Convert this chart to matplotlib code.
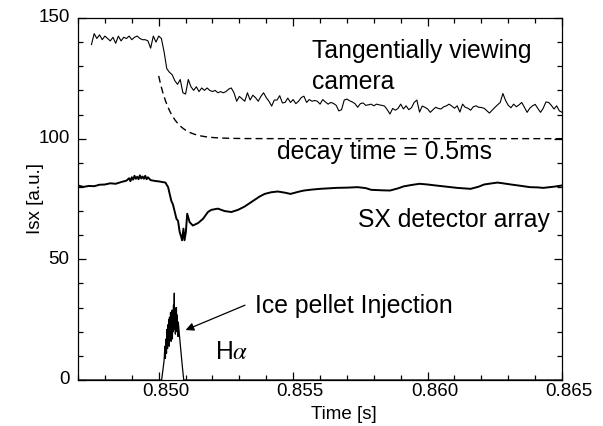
import numpy as np
import matplotlib.pyplot as plt
from matplotlib.ticker import MultipleLocator
from matplotlib.transforms import ScaledTranslation

plt.rcParams['font.family'] = ['Liberation Sans', 'DejaVu Sans']
plt.rcParams['mathtext.fontset'] = 'stix'

# tangential camera signal, sampled every 0.1 ms
cam_t0, cam_t1 = 0.8475, 0.8650
cam_val = [
    139.0, 143.5, 141.5, 143.0, 141.0, 142.5, 141.5, 140.5, 142.0, 139.5,
    142.5, 140.5, 142.0, 141.5, 142.5, 141.0, 142.0, 142.5, 141.5, 141.0,
    141.0, 140.5, 137.5, 142.5, 140.0, 142.5, 141.5, 136.0, 129.0, 127.5,
    126.5, 124.0, 122.5, 124.5, 119.0, 118.5, 124.5, 121.5, 120.0, 121.5,
    119.5, 121.0, 120.0, 121.0, 120.0, 119.5, 120.0, 119.0, 119.5, 119.0,
    119.5, 120.5, 121.0, 119.0, 115.5, 117.5, 116.5, 115.5, 119.0, 116.0,
    118.0, 117.0, 115.5, 117.5, 119.0, 117.0, 115.5, 113.5, 116.0,
    116.0, 117.8, 114.8, 115.0, 116.8, 115.0, 116.2, 114.5, 115.5, 117.0,
    117.6, 115.0, 116.2, 115.5, 115.8, 115.5, 114.3, 116.2, 115.2, 114.3,
    115.0, 114.6, 113.8, 111.5, 112.0, 116.0, 116.4, 115.7, 115.2, 114.5,
    113.0, 114.5, 114.8, 113.8, 114.0, 114.3, 113.6, 114.3, 114.0, 113.8,
    113.5, 112.0, 110.2, 112.5, 111.8, 112.5, 114.3, 112.3, 113.6, 112.0,
    112.8, 115.0, 116.0, 111.0, 113.5, 113.0, 112.3, 110.9, 112.0, 113.0,
    112.5, 112.3, 113.2, 113.6, 114.3, 113.5, 112.6, 113.6, 111.0, 114.3,
    113.0, 112.6, 111.8, 113.2, 113.6, 113.0, 112.9, 112.6, 111.6, 110.6,
    111.8, 112.9, 114.0, 115.0, 118.7, 115.8, 113.8, 112.8, 114.3, 113.2,
    114.0, 115.0, 113.0, 110.9, 112.6, 113.6, 114.2, 112.5, 110.9, 112.6,
    115.2, 115.0, 113.8, 112.3, 113.6, 111.5, 110.9,
]

# exponential decay model
decay_t0 = 0.8500
decay_base = 100.0
decay_amp = 26.0
decay_tau = 0.5e-3

# soft x-ray detector array
sx_t = [
    0.8470, 0.8472, 0.8474, 0.8476, 0.8478, 0.8480, 0.8482, 0.8484, 0.8486, 0.8488,
    0.8489, 0.84895, 0.8490, 0.84905, 0.8491, 0.84915, 0.8492, 0.84925, 0.8493, 0.84935,
    0.8494, 0.84945, 0.8495, 0.84955, 0.8496, 0.8497, 0.8498, 0.8499, 0.8500, 0.8501,
    0.85025, 0.85035, 0.85041, 0.85047, 0.85053, 0.85059, 0.85066, 0.85072, 0.85078, 0.85084,
    0.85087, 0.85092, 0.85096, 0.85101, 0.85106, 0.85115, 0.85127, 0.85146, 0.85165, 0.85183,
    0.85196, 0.8522, 0.85245, 0.8527, 0.85295, 0.8532, 0.85344, 0.85363, 0.85375, 0.85394,
    0.85419, 0.85443, 0.8547, 0.8549, 0.8552, 0.8554, 0.8557, 0.8560, 0.8563, 0.8566,
    0.8570, 0.8574, 0.8577, 0.8579, 0.8583, 0.8586, 0.8589, 0.8591, 0.8594, 0.8597,
    0.8600, 0.8603, 0.8607, 0.8611, 0.8616, 0.8619, 0.8621, 0.8624, 0.8626, 0.8628,
    0.8631, 0.8635, 0.8638, 0.8641, 0.8643, 0.8647, 0.8650,
]
sx_val = [
    80.6, 80.0, 80.4, 80.3, 80.9, 81.0, 81.5, 81.3, 82.0, 82.6,
    83.6, 82.4, 84.0, 83.0, 84.6, 83.4, 84.2, 83.2, 84.8, 83.5,
    84.3, 83.4, 84.6, 83.2, 84.0, 82.8, 82.6, 82.4, 82.3, 82.1,
    81.8, 79.9, 77.0, 74.2, 72.7, 70.0, 66.8, 65.9, 61.3, 59.2,
    57.9, 62.7, 57.9, 61.3, 68.9, 65.4, 64.0, 65.0, 66.8, 69.6,
    70.5, 71.0, 70.0, 69.6, 70.5, 71.9, 73.7, 75.1, 76.0, 77.1,
    77.8, 78.1, 77.6, 77.1, 78.0, 78.5, 78.9, 79.2, 79.4, 79.6,
    79.7, 79.9, 79.5, 78.8, 78.6, 78.5, 79.4, 80.2, 80.8, 81.3,
    81.0, 80.6, 80.1, 79.6, 79.2, 80.1, 81.0, 81.5, 81.8, 81.5,
    81.0, 80.4, 79.9, 79.8, 79.6, 80.1, 80.6,
]

# H-alpha emission during pellet injection
ha_t = [
    0.84700, 0.85011, 0.85020, 0.85023, 0.85025, 0.85027, 0.85029, 0.85031, 0.85033, 0.85035,
    0.85036, 0.85038, 0.85039, 0.85040, 0.85042, 0.85043, 0.85044, 0.85046, 0.85047, 0.85048,
    0.85050, 0.85051, 0.85052, 0.85054, 0.85055, 0.85056, 0.85058, 0.85059, 0.85060, 0.85062,
    0.85063, 0.85064, 0.85066, 0.85067, 0.85068, 0.85070, 0.85072, 0.85073, 0.85076, 0.85081,
    0.85088, 0.85093, 0.86500,
]
ha_val = [
    0, 0, 8, 14, 9, 17, 11, 21, 13, 23,
    15, 25, 14, 26, 17, 24, 28, 16, 27, 19,
    29, 17, 26, 20, 31, 22, 36, 21, 30, 19,
    28, 22, 30, 20, 27, 23, 18, 24, 20, 13.8,
    5.5, 0, 0,
]

cam_t = np.linspace(cam_t0, cam_t1, len(cam_val))
dec_t = np.linspace(decay_t0, 0.865, 300)
dec_val = decay_base + decay_amp * np.exp(-(dec_t - decay_t0) / decay_tau)

fig = plt.figure(figsize=(6.03, 4.26), dpi=100)
ax = fig.add_axes([0.1294, 0.108, 0.8027, 0.8498])

ax.plot(cam_t, cam_val, color='black', lw=0.8)
ax.plot(dec_t, dec_val, color='black', lw=1.0, linestyle=(0, (5, 3)))
ax.plot(sx_t, sx_val, color='black', lw=1.4)
ax.plot(ha_t, ha_val, color='black', lw=0.9)

ax.set_xlim(0.847, 0.865)
ax.set_ylim(0, 150)
ax.xaxis.set_minor_locator(MultipleLocator(0.001))
ax.yaxis.set_major_locator(MultipleLocator(50))
ax.yaxis.set_minor_locator(MultipleLocator(10))
ax.set_xticks([0.850, 0.855, 0.860, 0.865])
ax.set_xticklabels(['0.850', '0.855', '0.860', '0.865'])
ax.tick_params(which='both', direction='in', top=True, right=True, width=0.9, labelsize=13.5)
ax.tick_params(which='major', length=6, pad=2)
ax.tick_params(which='minor', length=3.5)
ax.tick_params(axis='y', which='major', pad=6)
for s in ax.spines.values():
    s.set_linewidth(0.9)

# nudge tick labels a little
for lab in ax.get_xticklabels():
    lab.set_transform(lab.get_transform() + ScaledTranslation(0.07, 0, fig.dpi_scale_trans))
for lab in ax.get_yticklabels():
    lab.set_transform(lab.get_transform() + ScaledTranslation(0, 0.02, fig.dpi_scale_trans))

ax.set_xlabel('Time [s]', fontsize=13.5)
ax.set_ylabel('Isx [a.u.]', fontsize=13.5)
ax.xaxis.set_label_coords(0.55, -0.072)
ax.yaxis.set_label_coords(-0.07, 0.5)

fs = 17.8
ax.text(0.8557, 133.3, 'Tangentially viewing', fontsize=fs, va='baseline')
ax.text(0.8557, 120.7, 'camera', fontsize=fs, va='baseline')
ax.text(0.8544, 91.6, 'decay time = 0.5ms', fontsize=fs, va='baseline')
ax.text(0.85741, 63.5, 'SX detector array', fontsize=fs, va='baseline')
ax.text(0.85358, 27.7, 'Ice pellet Injection', fontsize=fs, va='baseline')
ax.text(0.85209, 8.6, r'H$\alpha$', fontsize=fs, va='baseline')
ax.annotate('', xy=(0.85100, 20.7), xytext=(0.85321, 31.0),
            arrowprops=dict(arrowstyle='-|>', color='black', lw=0.9,
                            mutation_scale=12, shrinkA=0, shrinkB=0))

fig.savefig('out.png', dpi=100)
